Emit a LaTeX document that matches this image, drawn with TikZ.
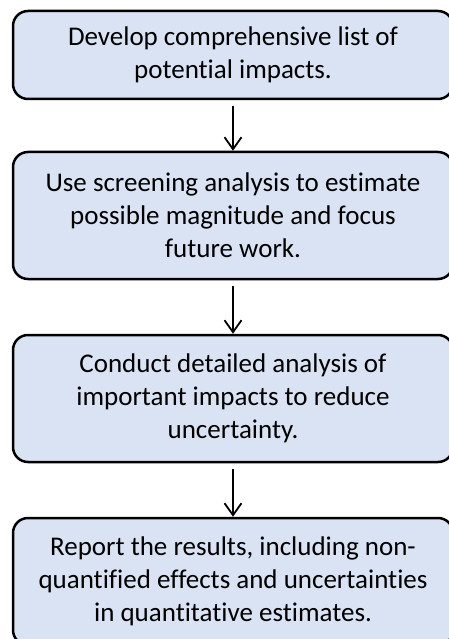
\documentclass[tikz,border=0pt]{standalone}
\usepackage{fontspec}
\setmainfont{Carlito}[Ligatures=NoCommon]
\usepackage{xcolor}
\usetikzlibrary{arrows.meta}

\definecolor{boxfill}{RGB}{218,227,243}

\tikzset{
	stepbox/.style={draw=black,fill=boxfill,line width=2.5pt,rounded corners=15pt,
		minimum width=440pt,inner sep=0pt,align=center,
		font=\fontsize{27}{33}\selectfont},
	flowarrow/.style={line width=1.8pt,shorten <=6pt,
		-{Straight Barb[length=12pt,width=17pt,line width=1.8pt]}}
}

\begin{document}
\begin{tikzpicture}[x=1pt,y=-1pt]
	\useasboundingbox (0,0) rectangle (448,639);

	\node[stepbox,minimum height=88pt] (dev) at (233,55)
		{Develop comprehensive list of\\potential impacts.};
	\node[stepbox,minimum height=127pt] (screen) at (233,215.5)
		{Use screening analysis to estimate\\possible magnitude and focus\\future work.};
	\node[stepbox,minimum height=127pt] (detail) at (233,398.5)
		{Conduct detailed analysis of\\important impacts to reduce\\uncertainty.};
	\node[stepbox,minimum height=127pt] (report) at (233,581.5)
		{Report the results, including non-\\quantified effects and uncertainties\\in quantitative estimates.};

	% arrows between the steps
	\draw[flowarrow] (dev) -- (screen);
	\draw[flowarrow] (screen) -- (detail);
	\draw[flowarrow] (detail) -- (report);

\end{tikzpicture}
\end{document}
